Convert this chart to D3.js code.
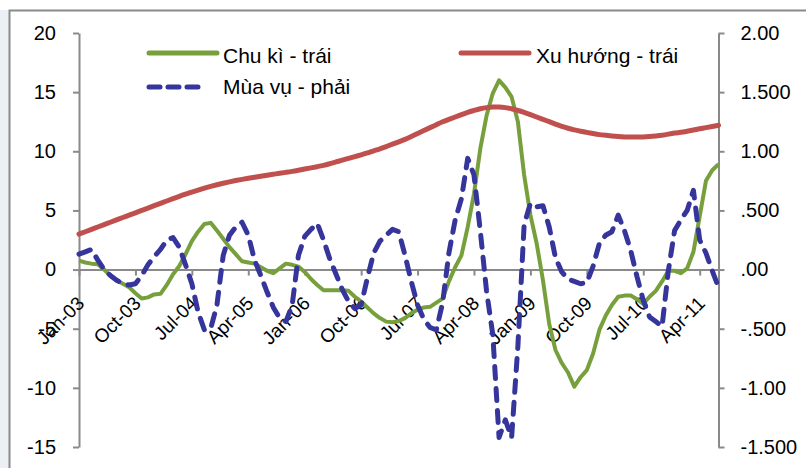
<!DOCTYPE html>
<html>
<head>
<meta charset="utf-8">
<script src="https://cdn.jsdelivr.net/npm/d3@7"></script>
<style>
  body { margin: 0; background: #fff; }
  text { font-family: "Liberation Sans", Arial, sans-serif; fill: #000; }
</style>
</head>
<body>
<div id="chart"></div>
<script>
// months Jan-03 .. Jul-11 (103 points)
var categories = d3.timeMonth.range(new Date(2003, 0, 1), new Date(2011, 7, 1));

// Chu kì (left axis)
var cycle = [
  0.75, 0.6, 0.5, 0.45, 0.0, -0.5, -0.9, -1.2, -1.5, -2.0,
  -2.45, -2.35, -2.1, -2.05, -1.3, -0.4, 0.3, 1.3, 2.4, 3.2,
  3.85, 3.95, 3.3, 2.6, 1.9, 1.3, 0.7, 0.6, 0.5, 0.2,
  -0.1, -0.3, 0.1, 0.5, 0.4, 0.25, -0.2, -0.8, -1.3, -1.75,
  -1.75, -1.75, -1.75, -1.8, -2.3, -2.7, -3.2, -3.7, -4.1, -4.4,
  -4.45, -4.35, -4.1, -3.7, -3.4, -3.2, -3.15, -2.8, -2.45, -1.0,
  0.2, 1.2, 3.6, 6.4, 10.2, 13.0, 14.9, 16.0, 15.4, 14.6,
  12.5, 8.0, 4.6, 2.2, -0.9, -4.6, -6.8, -7.9, -8.7, -9.9,
  -9.1, -8.5, -7.1, -5.1, -3.9, -3.0, -2.3, -2.2, -2.2, -2.5,
  -2.9, -2.3, -1.8, -1.0, -0.1, -0.1, -0.3, 0.1, 1.5, 4.5,
  7.5, 8.4, 8.9
];

// Xu hướng (left axis)
var trend = [
  3.0, 3.2, 3.4, 3.6, 3.8, 4.0, 4.2, 4.4, 4.6, 4.8,
  5.0, 5.2, 5.4, 5.6, 5.8, 6.0, 6.2, 6.38, 6.55, 6.72,
  6.88, 7.03, 7.17, 7.3, 7.42, 7.53, 7.63, 7.72, 7.8, 7.89,
  7.98, 8.06, 8.14, 8.22, 8.3, 8.4, 8.5, 8.6, 8.7, 8.8,
  8.95, 9.1, 9.25, 9.4, 9.55, 9.7, 9.85, 10.05, 10.2, 10.4,
  10.6, 10.8, 11.0, 11.25, 11.5, 11.75, 12.0, 12.25, 12.5, 12.7,
  12.9, 13.1, 13.3, 13.45, 13.6, 13.7, 13.75, 13.75, 13.7, 13.6,
  13.45, 13.3, 13.1, 12.9, 12.7, 12.5, 12.3, 12.1, 11.95, 11.8,
  11.7, 11.6, 11.5, 11.4, 11.35, 11.3, 11.25, 11.2, 11.2, 11.2,
  11.2, 11.25, 11.3, 11.35, 11.45, 11.55, 11.6, 11.7, 11.8, 11.9,
  12.0, 12.1, 12.2
];

// Mùa vụ (right axis)
var seasonal = [
  0.13, 0.15, 0.17, 0.08, 0.0, -0.05, -0.09, -0.12, -0.13, -0.12,
  -0.05, 0.04, 0.11, 0.17, 0.25, 0.27, 0.19, 0.04, -0.12, -0.36,
  -0.51, -0.5, -0.3, 0.12, 0.29, 0.36, 0.40, 0.29, 0.08, -0.05,
  -0.19, -0.32, -0.41, -0.44, -0.3, 0.12, 0.28, 0.34, 0.39, 0.25,
  0.09, -0.04, -0.17, -0.27, -0.33, -0.3, -0.07, 0.14, 0.24, 0.29,
  0.34, 0.32, 0.12, -0.1, -0.3, -0.42, -0.49, -0.51, -0.28, 0.14,
  0.42, 0.60, 0.94, 0.80, 0.33, -0.18, -0.55, -1.42, -1.27, -1.42,
  -0.65, 0.38, 0.56, 0.53, 0.54, 0.36, 0.10, -0.02, -0.08, -0.10,
  -0.12, -0.11, 0.03, 0.22, 0.29, 0.32, 0.46, 0.33, 0.16, -0.06,
  -0.26, -0.40, -0.44, -0.48, -0.01, 0.33, 0.42, 0.50, 0.67, 0.25,
  0.14, -0.01, -0.15
];

var leftTicks = [-15, -10, -5, 0, 5, 10, 15, 20];
var leftLabels = ["-15", "-10", "-5", "0", "5", "10", "15", "20"];
var rightTicks = [-1.5, -1, -0.5, 0, 0.5, 1, 1.5, 2];
var rightLabels = ["-1.500", "-1.00", "-.500", ".00", ".500", "1.00", "1.500", "2.00"];
var seriesNames = ["Chu kì - trái", "Xu hướng - trái", "Mùa vụ - phải"];

var colGreen = "#77a03d", colRed = "#c0504d", colBlue = "#35359b", colAxis = "#8a8a8a";

drawChart();

function drawChart() {
    var w = 806, h = 468;
    var left = 79, right = 718.5, top = 33, bottom = 447;

    var svg = d3.select("#chart").append("svg")
        .attr("width", w)
        .attr("height", h);

    // chart area frame + faint shadow on the left
    svg.append("rect").attr("x", 0).attr("y", 10).attr("width", 9).attr("height", h)
        .attr("fill", "#eceff4");
    svg.append("rect").attr("x", 9.5).attr("y", 10.5).attr("width", 900).attr("height", 600)
        .attr("fill", "#fff").attr("stroke", colAxis).attr("stroke-width", 2);

    var x = d3.scalePoint().domain(d3.range(categories.length)).range([left, right]);
    var yL = d3.scaleLinear().domain([-15, 20]).range([bottom, top]);
    var yR = d3.scaleLinear().domain([-1.5, 2]).range([bottom, top]);
    var fmt = d3.timeFormat("%b-%y");

    // left axis
    var gL = svg.append("g").attr("transform", "translate(" + left + ",0)")
        .call(d3.axisLeft(yL).tickValues(leftTicks).tickSize(6).tickSizeOuter(0).tickPadding(17)
            .tickFormat(function(d, i) { return leftLabels[i]; }));
    // right axis
    var gR = svg.append("g").attr("transform", "translate(" + right + ",0)")
        .call(d3.axisRight(yR).tickValues(rightTicks).tickSize(6).tickSizeOuter(0).tickPadding(16)
            .tickFormat(function(d, i) { return rightLabels[i]; }));
    // category axis crossing at zero
    var xTicks = d3.range(0, categories.length, 9);
    var gX = svg.append("g").attr("transform", "translate(0," + yL(0) + ")")
        .call(d3.axisBottom(x).tickValues(xTicks).tickSize(6).tickSizeOuter(0)
            .tickFormat(function(d) { return fmt(categories[d]); }));

    [gL, gR, gX].forEach(function(g) {
        g.select(".domain").attr("stroke", colAxis).attr("stroke-width", 2);
        g.selectAll(".tick line").attr("stroke", colAxis).attr("stroke-width", 2);
        g.selectAll("text").attr("font-size", "20px")
            .attr("font-family", "'Liberation Sans', Arial, sans-serif").attr("fill", "#000");
    });

    gX.selectAll(".tick text")
        .attr("font-size", "19px")
        .attr("text-anchor", "end")
        .attr("dy", null)
        .attr("y", 0)
        .attr("transform", "translate(6,35) rotate(-45)");

    // series
    var lineL = d3.line().x(function(d, i) { return x(i); }).y(function(d) { return yL(d); });
    var lineR = d3.line().x(function(d, i) { return x(i); }).y(function(d) { return yR(d); });

    svg.append("path").datum(cycle).attr("d", lineL)
        .attr("fill", "none").attr("stroke", colGreen).attr("stroke-width", 4)
        .attr("stroke-linejoin", "round");
    svg.append("path").datum(trend).attr("d", lineL.curve(d3.curveBasis))
        .attr("fill", "none").attr("stroke", colRed).attr("stroke-width", 5)
        .attr("stroke-linecap", "round");
    svg.append("path").datum(seasonal).attr("d", lineR)
        .attr("fill", "none").attr("stroke", colBlue).attr("stroke-width", 5)
        .attr("stroke-dasharray", "12,10").attr("stroke-linecap", "round")
        .attr("stroke-linejoin", "round");

    // legend
    var legend = [
        { name: seriesNames[0], color: colGreen, dash: null, x: 149, y: 53, tx: 223, ty: 63 },
        { name: seriesNames[1], color: colRed, dash: null, x: 461, y: 53, tx: 536, ty: 63 },
        { name: seriesNames[2], color: colBlue, dash: "11,8", x: 149, y: 87, tx: 223, ty: 94 }
    ];
    var lg = svg.selectAll(".legend").data(legend).enter().append("g");
    lg.append("line")
        .attr("x1", function(d) { return d.x; })
        .attr("x2", function(d) { return d.dash ? d.x + 56 : d.x + 68; })
        .attr("y1", function(d) { return d.y; })
        .attr("y2", function(d) { return d.y; })
        .attr("stroke", function(d) { return d.color; })
        .attr("stroke-width", 5)
        .attr("stroke-linecap", "round")
        .attr("stroke-dasharray", function(d) { return d.dash; });
    lg.append("text")
        .attr("x", function(d) { return d.tx; })
        .attr("y", function(d) { return d.ty; })
        .attr("font-size", "21px")
        .text(function(d) { return d.name; });
}
</script>
</body>
</html>
